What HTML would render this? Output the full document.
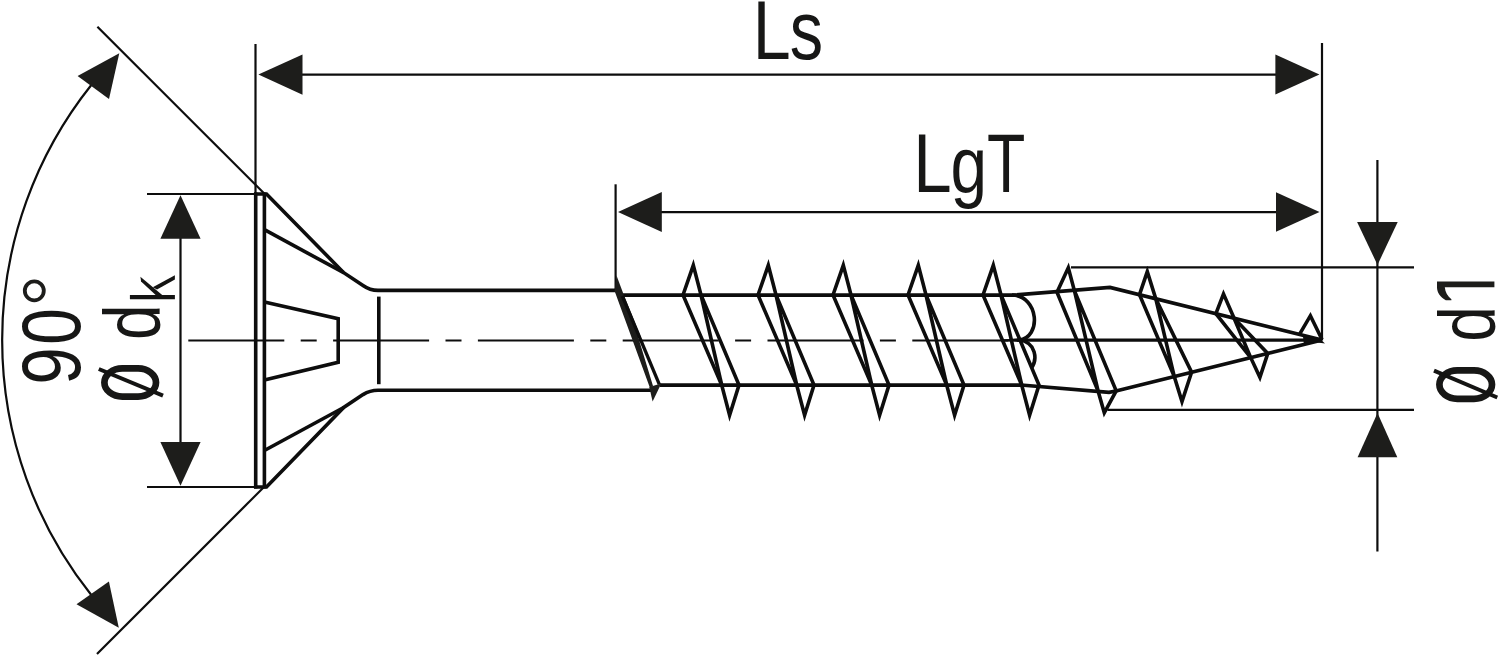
<!DOCTYPE html>
<html>
<head>
<meta charset="utf-8">
<title>Screw dimension drawing</title>
<style>
  html, body { margin: 0; padding: 0; background: #ffffff; }
  body { width: 1500px; height: 657px; overflow: hidden; font-family: "Liberation Sans", sans-serif; }
  svg { display: block; }
  .thin { stroke: #0d0d0d; stroke-width: 2.2; fill: none; }
  .thick { stroke: #0d0d0d; stroke-width: 3.6; fill: none; stroke-linejoin: miter; stroke-miterlimit: 10; }
  .thr { stroke: #0d0d0d; stroke-width: 3.6; fill: none; stroke-linejoin: miter; stroke-miterlimit: 10; }
  .core { stroke-width: 3.75; }
  .fill { fill: #1d1d1b; stroke: none; }
  text { font-family: "Liberation Sans", sans-serif; fill: #171716; }
</style>
</head>
<body>
<svg width="1500" height="657" viewBox="0 0 1500 657">
  <rect x="0" y="0" width="1500" height="657" fill="#ffffff"/>

  <!-- ===== 90 degree angle ===== -->
  <g id="angle">
    <line class="thin" x1="97.4" y1="26.7" x2="266" y2="195.3"/>
    <line class="thin" x1="97" y1="654" x2="266" y2="485"/>
    <path class="thin" d="M 91.3 85 A 409.3 409.3 0 0 0 91.3 595"/>
    <polygon class="fill" points="119.3,53.3 77.6,76.1 109,98.9"/>
    <polygon class="fill" points="118.8,627.7 76.5,604.2 108.9,581.4"/>
  </g>

  <!-- ===== Ls dimension ===== -->
  <g id="ls">
    <line class="thin" x1="255.5" y1="44" x2="255.5" y2="194"/>
    <line class="thin" x1="1322" y1="43" x2="1322" y2="340.5"/>
    <line class="thin" x1="300" y1="74.6" x2="1278" y2="74.6"/>
    <polygon class="fill" points="258.4,74.6 302.5,54.5 302.5,94.8"/>
    <polygon class="fill" points="1319.4,74.6 1275.4,54.6 1275.4,94.6"/>
  </g>

  <!-- ===== LgT dimension ===== -->
  <g id="lgt">
    <line class="thin" x1="615.6" y1="184.3" x2="615.6" y2="290"/>
    <line class="thin" x1="660" y1="212.2" x2="1278" y2="212.2"/>
    <polygon class="fill" points="618,212 661.8,192.1 661.8,231.9"/>
    <polygon class="fill" points="1319.5,212 1276,192.2 1276,231.8"/>
  </g>

  <!-- ===== dk dimension ===== -->
  <g id="dk">
    <line class="thin" x1="147" y1="194" x2="256" y2="194"/>
    <line class="thin" x1="147" y1="487" x2="256" y2="487"/>
    <line class="thin" x1="180.5" y1="236" x2="180.5" y2="444"/>
    <polygon class="fill" points="180.5,195.2 160.4,238.8 200.6,238.8"/>
    <polygon class="fill" points="180.5,485.8 160.4,442.1 200.6,442.1"/>
  </g>

  <!-- ===== d1 dimension ===== -->
  <g id="d1">
    <line class="thin" x1="1071" y1="267.3" x2="1414" y2="267.3"/>
    <line class="thin" x1="1107.5" y1="409.8" x2="1414" y2="409.8"/>
    <line class="thin" x1="1377.4" y1="160" x2="1377.4" y2="551.5"/>
    <polygon class="fill" points="1377.5,264.9 1357.1,222 1397.7,222"/>
    <polygon class="fill" points="1377.5,413 1357.6,457.2 1397.3,457.2"/>
  </g>

  <!-- ===== centre line ===== -->
  <g id="centre">
    <line class="thin" x1="188.3" y1="340.5" x2="1019" y2="340.5" stroke-dasharray="96 16.4 16 16.4"/>
    <line class="thin" x1="1004" y1="340.5" x2="1020" y2="340.5"/>
    <line class="thick" x1="1017" y1="340.1" x2="1322" y2="340.1" style="stroke-width:3.3"/>
  </g>

  <!-- ===== screw head ===== -->
  <g id="head">
    <line class="thick" x1="255.7" y1="192.4" x2="255.7" y2="488.6"/>
    <line class="thick" x1="264.4" y1="192.4" x2="264.4" y2="488.6"/>
    <path class="thick" d="M 254 194 L 266.5 194 L 343.7 272.7 L 363 285.5 Q 370 290.4 378 290.4 L 615.5 290.4"/>
    <path class="thick" d="M 254 487 L 266.5 487 L 343.7 407.5 L 363 394.6 Q 370 390.3 378 390.3 L 651 390.3"/>
    <line class="thick" x1="264.4" y1="229.7" x2="343.7" y2="272.7"/>
    <line class="thick" x1="264.4" y1="450.5" x2="343.7" y2="407.5"/>
    <path class="thick" d="M 264.4 302 L 338.2 318.8 L 338.2 362.3 L 264.4 380"/>
    <line class="thick" x1="378.8" y1="296.6" x2="378.8" y2="384.2"/>
  </g>

  <!-- ===== thread core ===== -->
  <g id="core">
    <path class="thick core" d="M 622 295 L 1015.6 295 L 1110 287.4 L 1322 340"/>
    <path class="thick core" d="M 660 385 L 1021 385 L 1109 392.3 L 1116 391 L 1322 340"/>
    <path class="thr" d="M 1012 295 C 1039.5 296 1041.5 338 1019 340 C 1036.5 342 1037.5 360 1031.3 368"/>
    <polygon points="1319.5,338.5 1325,343.6 1317.5,342.6" fill="#0d0d0d"/>
    <polygon points="1303,336.4 1321.5,340 1304,344.3" fill="#0d0d0d"/>
  </g>

  <!-- ===== threads ===== -->
  <g id="threads">
    <!-- thread 0 (start) -->
    <polygon class="fill" points="614.6,291 616.5,275.5 624.2,296 640.8,337 638.3,337.5 653,386 650,388"/>
    <path class="thr" d="M 622.3 296 L 659.3 384.3" style="stroke-width:3.3"/>
    <polygon class="fill" points="649.3,387 652.6,401.5 661.3,383.5"/>
    <!-- regular threads 1..5 -->
    <g id="t1">
      <path class="thr" d="M 683 295 L 693.3 265.3 L 701 295 L 739 385 L 729.6 415.3 L 721.7 385 Z"/>
      <path class="thr" d="M 701 295 L 721.7 385"/>
    </g>
    <g id="t2" transform="translate(75,0)">
      <path class="thr" d="M 683 295 L 693.3 265.3 L 701 295 L 739 385 L 729.6 415.3 L 721.7 385 Z"/>
      <path class="thr" d="M 701 295 L 721.7 385"/>
    </g>
    <g id="t3" transform="translate(150,0)">
      <path class="thr" d="M 683 295 L 693.3 265.3 L 701 295 L 739 385 L 729.6 415.3 L 721.7 385 Z"/>
      <path class="thr" d="M 701 295 L 721.7 385"/>
    </g>
    <g id="t4" transform="translate(225,0)">
      <path class="thr" d="M 683 295 L 693.3 265.3 L 701 295 L 739 385 L 729.6 415.3 L 721.7 385 Z"/>
      <path class="thr" d="M 701 295 L 721.7 385"/>
    </g>
    <g id="t5" transform="translate(300,0)">
      <path class="thr" d="M 683 295 L 693.3 265.3 L 701 295 L 739 385 L 729.6 415.3 L 721.7 385 Z"/>
      <path class="thr" d="M 701 295 L 721.7 385"/>
    </g>
    <!-- thread 6 -->
    <path class="thr" d="M 1057 292.3 L 1068.3 267.8 L 1074.4 290.6 L 1116.2 390.8 L 1104.3 412.8 L 1098.2 391.4 Z M 1074.4 290.6 L 1098.2 391.4"/>
    <!-- thread 7 -->
    <path class="thr" d="M 1139.5 294.7 L 1147.3 271.6 L 1155.8 298.8 L 1191.6 372.2 L 1182 401.6 L 1174.3 376.6 Z M 1155.8 298.8 L 1174.3 376.6"/>
    <!-- thread 8 -->
    <path class="thr" d="M 1215.9 313.7 L 1223.5 293.9 L 1234.1 318.2 L 1267.8 353.4 L 1259.9 377.3 L 1250.7 357.6 Z M 1234.1 318.2 L 1250.7 357.6"/>
    <!-- thread 9 (tip) -->
    <path class="thr" d="M 1299.5 334.3 L 1310.4 315.7 L 1322 339.5"/>
  </g>

  <!-- ===== labels ===== -->
  <g id="labels">
    <g id="txLs"><text transform="translate(752.80,58.8) scale(0.822,1)" font-size="83">L</text><text transform="translate(789.74,58.8) scale(0.804,1)" font-size="83">s</text></g>
    <g id="txLgT"><text transform="translate(913.33,192.3) scale(0.833,1)" font-size="83">L</text><text transform="translate(950.44,192.3) scale(0.793,0.965)" font-size="83">g</text><text transform="translate(986.99,192.3) scale(0.756,1)" font-size="83">T</text></g>
    <g id="tx90"><text transform="translate(79.9,384.85) rotate(-90) scale(0.811,1)" font-size="83">9</text><text transform="translate(79.9,344.66) rotate(-90) scale(0.791,1)" font-size="83">0</text></g>
    <circle id="deg" cx="34.3" cy="290.8" r="9.5" fill="none" stroke="#1d1d1b" stroke-width="3.8"/>
    <!-- Ø dk -->
    <g id="dkLabel">
      <rect x="104.4" y="368.4" width="51.6" height="28.2" rx="18" ry="14.1" fill="none" stroke="#171716" stroke-width="6.7"/>
      <line x1="98.8" y1="369" x2="163" y2="395.7" stroke="#141413" stroke-width="4"/>
      <text id="txd" transform="translate(159.5,340.1) rotate(-90) scale(0.80,1)" font-size="80">d</text>
      <g id="txk" stroke="#141413" fill="none">
        <line x1="129.9" y1="297.2" x2="174.9" y2="297.2" stroke-width="4.3"/>
        <polygon points="140.4,276.8 162.8,295.4 156.2,295.4 141.1,281.6" fill="#141413" stroke="none"/>
        <polygon points="174.9,275.2 152.8,287.2 157,289.6 174.9,279.5" fill="#141413" stroke="none"/>
      </g>
    </g>
    <!-- Ø d1 -->
    <g id="d1Label">
      <rect x="1439.4" y="370.4" width="52.6" height="28.4" rx="18" ry="14.2" fill="none" stroke="#171716" stroke-width="6.7"/>
      <line x1="1434" y1="370.7" x2="1497.3" y2="397.5" stroke="#141413" stroke-width="4"/>
      <text id="txd1" transform="translate(1494.5,341.7) rotate(-90) scale(0.80,1)" font-size="80">d</text>
      <path id="tx1" class="fill" d="M 1437 281.4 L 1494.4 281.4 L 1494.4 287.3 L 1444.8 287.3 C 1445.2 292 1447.6 296.5 1451.4 299.2 L 1451.4 300.2 L 1445.8 300.2 C 1440.5 297.5 1437 292.5 1437 287.5 Z"/>
    </g>
  </g>
</svg>
</body>
</html>
